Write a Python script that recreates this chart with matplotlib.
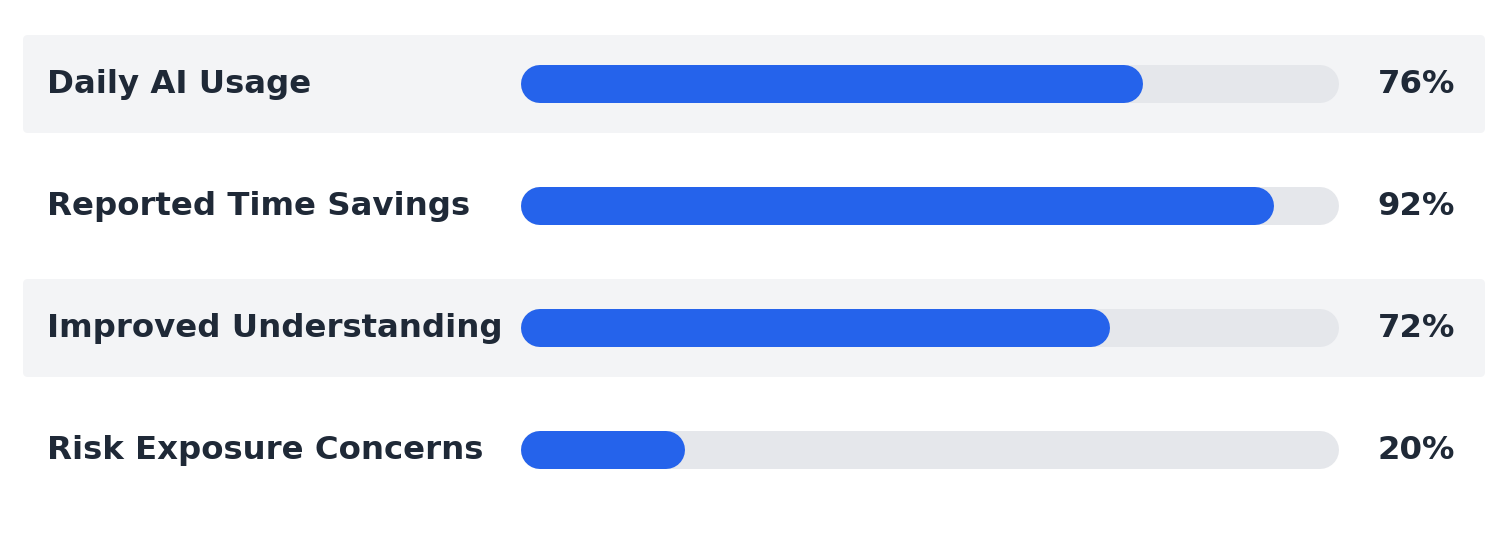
import matplotlib.pyplot as plt
from matplotlib.patches import FancyBboxPatch
from matplotlib.transforms import blended_transform_factory

labels = ["Daily AI Usage", "Reported Time Savings", "Improved Understanding", "Risk Exposure Concerns"]
values = [76, 92, 72, 20]

blue = "#2563eb"
track = "#e5e7eb"
band = "#f3f4f6"
text_col = "#1f2937"

W, H = 1509, 537
fig = plt.figure(figsize=(W / 100, H / 100), dpi=100)
fig.patch.set_facecolor("white")

# axes: x in percent (0..100 = track), y in row units
x0, x1 = 521, 1339
row_top, row_step = 84, 122
ax = fig.add_axes([x0 / W, 0, (x1 - x0) / W, 1])
ax.set_xlim(0, 100)
ax.set_ylim((H - row_top) / row_step, -row_top / row_step)
ax.axis("off")

px_x = 100 / (x1 - x0)      # data units per pixel in x
px_y = 1 / row_step          # data units per pixel in y
aspect = px_y / px_x

bar_px = 38
lw = bar_px * 72 / 100       # line width in points
r = bar_px / 2 * px_x        # cap radius in x units
band_h = 98 * px_y
band_l = (23 - x0) * px_x
band_r = (1485 - x0) * px_x

fig_x = blended_transform_factory(fig.transFigure, ax.transData)

for i, (lab, v) in enumerate(zip(labels, values)):
    if i % 2 == 0:
        ax.add_patch(FancyBboxPatch((band_l, i - band_h / 2), band_r - band_l, band_h,
                                    boxstyle="round,pad=0,rounding_size=0.6",
                                    mutation_aspect=aspect, fc=band, ec="none",
                                    clip_on=False, zorder=0))
    ax.plot([r, 100 - r], [i, i], color=track, lw=lw, solid_capstyle="round",
            zorder=1, clip_on=False)
    ax.plot([r, v - r], [i, i], color=blue, lw=lw, solid_capstyle="round",
            zorder=2, clip_on=False)
    ax.text(47 / W, i + 9 * px_y, lab, transform=fig_x, ha="left", va="baseline",
            fontsize=23.3, fontweight="bold", color=text_col)
    ax.text(1455 / W, i + 9 * px_y, f"{v}%", transform=fig_x, ha="right", va="baseline",
            fontsize=23.3, fontweight="bold", color=text_col)

fig.savefig("out.png", dpi=100)
